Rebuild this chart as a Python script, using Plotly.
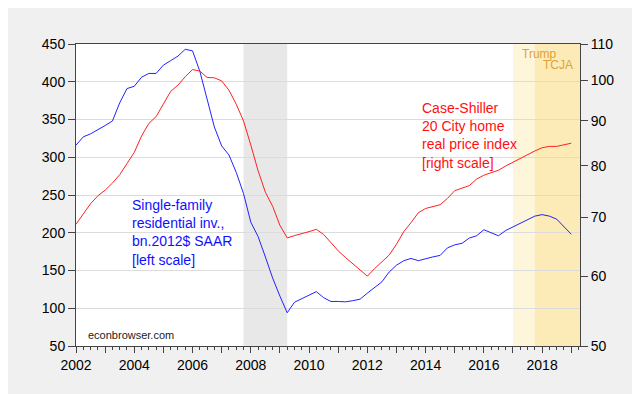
import plotly.graph_objects as go
import numpy as np

# Quarterly observations 2002Q1 .. 2019Q1
start_year = 2002
n_obs = 69
quarters = [start_year + 0.25 * i for i in range(n_obs)]

# Single-family residential investment, bn.2012$ SAAR (left scale)
resinv = [316, 327, 331, 336, 342, 348, 372, 391, 394, 406, 411, 411,
          422, 428, 434, 443, 441, 414, 378, 340, 315, 303, 280, 252,
          214, 195, 168, 140, 116, 94, 108, 113, 118, 122, 114, 109,
          109, 108.5, 110, 112, 120, 128, 135, 148, 157, 163, 166, 163,
          166, 168, 170, 180, 184, 186, 193, 196, 204, 200, 196, 203,
          208, 213, 218, 222, 224, 222, 218, 208, 198]

# Case-Shiller 20 City real home price index (right scale, log)
cs_real = [68.7, 70.6, 72.5, 74.0, 75.1, 76.5, 78.2, 80.5, 82.9, 86.5, 89.4, 91.0,
           94.0, 97.2, 98.8, 101.0, 102.9, 102.5, 100.8, 100.7, 99.9, 97.5, 94.0, 90.0,
           84.5, 79.0, 74.7, 72.0, 68.5, 66.3, 66.7, 67.0, 67.4, 67.8, 66.9, 65.5,
           64.1, 63.0, 62.0, 61.0, 60.0, 61.2, 62.3, 63.4, 65.2, 67.4, 69.0, 70.8,
           71.6, 72.0, 72.3, 73.5, 75.0, 75.5, 76.0, 77.3, 78.1, 78.6, 79.1, 80.0,
           80.8, 81.6, 82.3, 83.2, 83.9, 84.2, 84.2, 84.5, 84.9]

year_ticks = list(range(2002, 2020))
year_labels = [str(y) if y % 2 == 0 else "" for y in year_ticks]
left_ticks = [50, 100, 150, 200, 250, 300, 350, 400, 450]
right_ticks = [50, 60, 70, 80, 90, 100, 110]

recession = (2007.75, 2009.25)
trump_start = 2017.0
tcja_start = 2017.75
x_end = 2019.3

FONT = "Liberation Sans, Arial, sans-serif"

fig = go.Figure()
fig.add_trace(go.Scatter(x=quarters, y=resinv, mode="lines",
                         line=dict(color="#2222ff", width=1), yaxis="y",
                         showlegend=False, hoverinfo="skip"))
fig.add_trace(go.Scatter(x=quarters, y=cs_real, mode="lines",
                         line=dict(color="#ff2020", width=1), yaxis="y2",
                         showlegend=False, hoverinfo="skip"))

shapes = [
    dict(type="rect", xref="x", yref="paper", x0=recession[0], x1=recession[1],
         y0=0, y1=1, fillcolor="#e8e8e8", line=dict(width=0), layer="below"),
    dict(type="rect", xref="x", yref="paper", x0=trump_start, x1=x_end,
         y0=0, y1=1, fillcolor="#fef6da", line=dict(width=0), layer="below"),
    dict(type="rect", xref="x", yref="paper", x0=tcja_start, x1=x_end,
         y0=0, y1=1, fillcolor="#fcebb6", line=dict(width=0), layer="below"),
]

annotations = [
    dict(xref="paper", yref="paper", x=0.108, y=0.375, xanchor="left", yanchor="middle",
         align="left", showarrow=False,
         text="Single-family<br>residential inv.,<br>bn.2012$ SAAR<br>[left scale]",
         font=dict(family=FONT, size=14, color="#1010ff")),
    dict(xref="paper", yref="paper", x=0.6835, y=0.6957, xanchor="left", yanchor="middle",
         align="left", showarrow=False,
         text="Case-Shiller<br>20 City home<br>real price index<br>[right scale]",
         font=dict(family=FONT, size=14, color="#ff1010")),
    dict(xref="paper", yref="paper", x=0.019, y=0.038, xanchor="left", yanchor="middle",
         showarrow=False, text="econbrowser.com",
         font=dict(family=FONT, size=11, color="#222222")),
    dict(xref="paper", yref="paper", x=0.919, y=0.968, xanchor="center", yanchor="middle",
         showarrow=False, text="Trump",
         font=dict(family=FONT, size=12, color="#e0a23a")),
    dict(xref="paper", yref="paper", x=0.957, y=0.9315, xanchor="center", yanchor="middle",
         showarrow=False, text="TCJA",
         font=dict(family=FONT, size=12, color="#e0a23a")),
]

fig.update_layout(
    width=640, height=394,
    margin=dict(l=68, r=68, t=36, b=56),
    paper_bgcolor="#f0f0f0", plot_bgcolor="#ffffff",
    font=dict(family=FONT, size=14, color="#000000"),
    shapes=shapes, annotations=annotations,
    xaxis=dict(range=[2002, x_end], tickmode="array", tickvals=year_ticks,
               ticktext=year_labels, ticks="outside", ticklen=6, tickcolor="#444444",
               showgrid=False, zeroline=False, showline=True, linecolor="#444444",
               linewidth=1, mirror=True,
               minor=dict(tick0=2002, dtick=0.25, ticks="outside", ticklen=3,
                          tickcolor="#444444", showgrid=False),
               tickfont=dict(family=FONT, size=14)),
    yaxis=dict(range=[50, 450], tickmode="array", tickvals=left_ticks,
               ticks="outside", ticklen=7, tickcolor="#444444",
               showgrid=True, gridcolor="#dcdcdc", gridwidth=1, zeroline=False,
               showline=True, linecolor="#444444", linewidth=1,
               tickfont=dict(family=FONT, size=14)),
    yaxis2=dict(type="log", range=[np.log10(50), np.log10(110)], overlaying="y",
                side="right", tickmode="array", tickvals=right_ticks,
                ticktext=[str(v) for v in right_ticks],
                ticks="outside", ticklen=7, tickcolor="#444444",
                showgrid=False, zeroline=False, showline=True, linecolor="#444444",
                linewidth=1, tickfont=dict(family=FONT, size=14)),
)

fig.write_html("out.html")
